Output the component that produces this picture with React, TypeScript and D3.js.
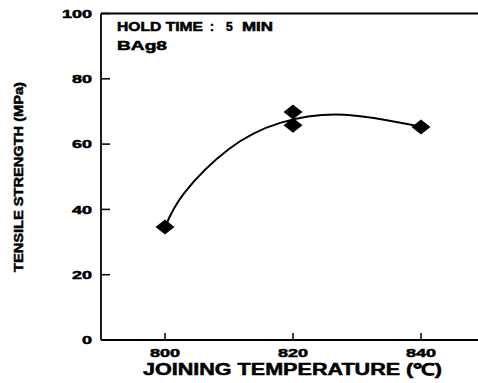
import React from 'react';
import * as d3 from 'd3';

// measured points (joining temperature °C, tensile strength MPa)
const tempPoints = [800, 820, 820, 840];
const strengthPoints = [34.6, 69.8, 65.8, 65.2];

// fitted curve
const curveTemps = [800, 803, 810, 818, 828, 840];
const curveStrength = [34.6, 45, 58.5, 66.5, 69, 65.3];

const xTicks = [800, 820, 840];
const yTicks = [0, 20, 40, 60, 80, 100];

const font = '"Liberation Sans", Arial, sans-serif';

const App = () => {
    const width = 478;
    const height = 383;

    const x = d3.scaleLinear().domain([790, 850]).range([101, 485]);
    const y = d3.scaleLinear().domain([0, 100]).range([340, 13.5]);

    const curveData = curveTemps.map((t, i) => [t, curveStrength[i]] as [number, number]);
    const line = d3.line<[number, number]>()
        .x(d => x(d[0]))
        .y(d => y(d[1]))
        .curve(d3.curveNatural);

    // diamond marker, a bit wider than tall
    const diamond = (cx: number, cy: number) => {
        const p = d3.path();
        p.moveTo(cx, cy - 7.5);
        p.lineTo(cx + 9.5, cy);
        p.lineTo(cx, cy + 7.5);
        p.lineTo(cx - 9.5, cy);
        p.closePath();
        return p.toString();
    };

    const [x0, x1] = x.range();
    const [y0, y1] = y.range();

    // heavy scanned-looking lettering
    const textStyle = { fontFamily: font, fontWeight: 'bold' as const, stroke: '#000', strokeWidth: 0.5 };

    return (
        <svg width={width} height={height} style={{ position: 'absolute', left: 0, top: 0, background: '#fff' }}>
            {/* frame: left, bottom, top */}
            <g stroke="#000" strokeWidth={1.8} fill="none">
                <line x1={x0} x2={x1} y1={y0} y2={y0} />
                <line x1={x0} x2={x1} y1={y1} y2={y1} />
                <line x1={x0} x2={x0} y1={y1} y2={y0} />
            </g>

            {/* y ticks */}
            {yTicks.map(t => (
                <g key={'y' + t}>
                    <line x1={x0} x2={x0 + 9} y1={y(t)} y2={y(t)} stroke="#000" strokeWidth={1.5} />
                    <text x={92} y={y(t)} dy="0.36em" textAnchor="end" style={textStyle}
                        fontSize={11.5} textLength={String(t).length * 10} lengthAdjust="spacingAndGlyphs">{t}</text>
                </g>
            ))}

            {/* x ticks */}
            {xTicks.map(t => (
                <g key={'x' + t}>
                    <line x1={x(t)} x2={x(t)} y1={y0} y2={y0 - 7} stroke="#000" strokeWidth={1.5} />
                    <text x={x(t) - 15} y={357} style={textStyle}
                        fontSize={11.5} textLength={30} lengthAdjust="spacingAndGlyphs">{t}</text>
                </g>
            ))}

            {/* axis titles */}
            <text x={143} y={375} style={textStyle} fontSize={16}
                textLength={299} lengthAdjust="spacingAndGlyphs">JOINING TEMPERATURE (℃)</text>
            <text transform="translate(23,272) rotate(-90)" style={textStyle} fontSize={12.5}
                textLength={190} lengthAdjust="spacingAndGlyphs">TENSILE STRENGTH (MPa)</text>

            {/* annotations */}
            <g style={textStyle} fontSize={12}>
                <text x={117} y={31} textLength={86} lengthAdjust="spacingAndGlyphs">HOLD TIME</text>
                <text x={210} y={31}>:</text>
                <text x={226} y={31}>5</text>
                <text x={242} y={31} textLength={31} lengthAdjust="spacingAndGlyphs">MIN</text>
                <text x={117} y={50} textLength={50} lengthAdjust="spacingAndGlyphs">BAg8</text>
            </g>

            {/* fitted curve */}
            <path d={line(curveData) ?? ''} fill="none" stroke="#000" strokeWidth={2} />

            {/* data points */}
            {tempPoints.map((t, i) => (
                <path key={'p' + i} d={diamond(x(t), y(strengthPoints[i]))} fill="#000" />
            ))}
        </svg>
    );
};

export default App;
